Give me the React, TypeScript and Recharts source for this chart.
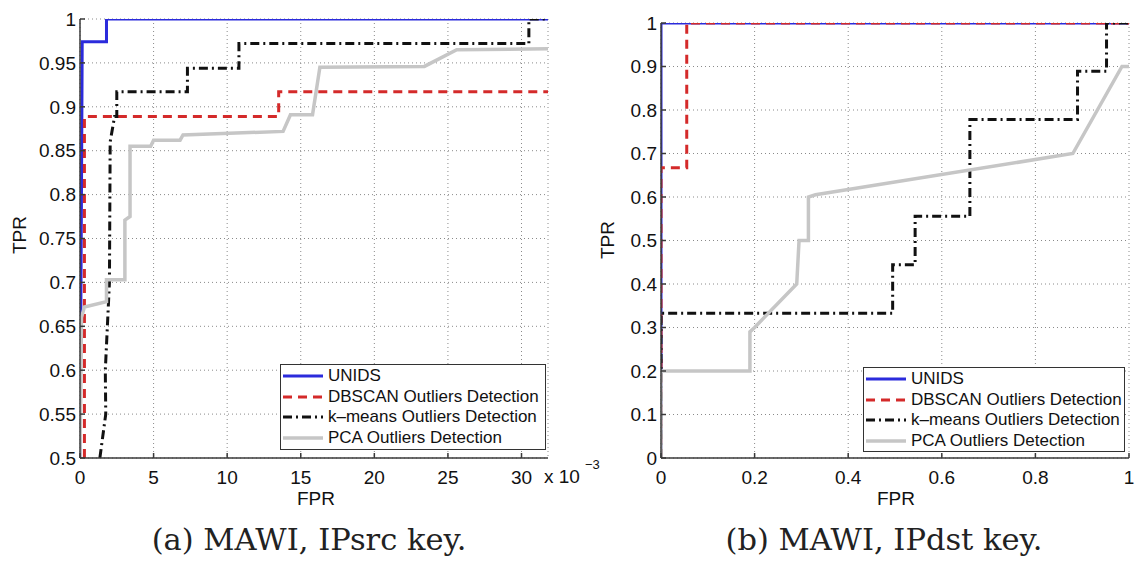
import { LineChart, Line, XAxis, YAxis, CartesianGrid, Legend } from "recharts";

type Pt = [number, number];

// (a) IPsrc key -- FPR is in units of 1e-3
const srcUnids: Pt[] = [[0, 0.5], [0.1, 0.8], [0.15, 0.974], [1.8, 0.974], [1.8, 1], [31.8, 1]];
const srcDbscan: Pt[] = [[0.3, 0.5], [0.3, 0.889], [13.5, 0.889], [13.5, 0.917], [31.8, 0.917]];
const srcKmeans: Pt[] = [
  [1.35, 0.5], [1.75, 0.55], [1.72, 0.6], [2.0, 0.7], [2.05, 0.86], [2.35, 0.889], [2.5, 0.889],
  [2.5, 0.917], [7.3, 0.917], [7.3, 0.944], [10.8, 0.944], [10.8, 0.972], [30.5, 0.972], [30.5, 1], [31.8, 1],
];
const srcPca: Pt[] = [
  [0, 0.5], [0.1, 0.66], [0.3, 0.672], [1.8, 0.678], [1.8, 0.703], [3.05, 0.703], [3.05, 0.771],
  [3.4, 0.775], [3.4, 0.855], [4.8, 0.855], [5.0, 0.862], [6.8, 0.862], [7.0, 0.868], [13.8, 0.872],
  [14.3, 0.891], [15.8, 0.891], [16.3, 0.945], [23.4, 0.946], [25.6, 0.965], [31.8, 0.966],
];
const srcXTicks = [0, 5, 10, 15, 20, 25, 30];
const srcYTicks = [0.5, 0.55, 0.6, 0.65, 0.7, 0.75, 0.8, 0.85, 0.9, 0.95, 1];

// (b) IPdst key
const dstUnids: Pt[] = [[0, 0], [0, 1], [1, 1]];
const dstDbscan: Pt[] = [[0, 0], [0, 0.667], [0.055, 0.667], [0.055, 1], [1, 1]];
const dstKmeans: Pt[] = [
  [0, 0], [0, 0.333], [0.495, 0.333], [0.495, 0.444], [0.543, 0.444], [0.543, 0.556], [0.66, 0.556],
  [0.66, 0.778], [0.89, 0.778], [0.89, 0.889], [0.952, 0.889], [0.952, 1], [1, 1],
];
const dstPca: Pt[] = [
  [0, 0], [0, 0.2], [0.19, 0.2], [0.19, 0.29], [0.2, 0.3], [0.29, 0.4], [0.295, 0.5], [0.315, 0.5],
  [0.315, 0.6], [0.33, 0.605], [0.88, 0.7], [0.985, 0.9], [1, 0.9],
];
const dstXTicks = [0, 0.2, 0.4, 0.6, 0.8, 1];
const dstYTicks = [0, 0.1, 0.2, 0.3, 0.4, 0.5, 0.6, 0.7, 0.8, 0.9, 1];

const seriesNames = ["UNIDS", "DBSCAN Outliers Detection", "k\u2013means Outliers Detection", "PCA Outliers Detection"];

const FONT = "'Liberation Sans', Arial, Helvetica, sans-serif";
const SERIF = "'DejaVu Serif', 'Liberation Serif', serif";
const AXIS = "#3a3a3a";
const INK = "#111";

const lineStyles = [
  { stroke: "#2b2bdc", width: 3, dash: undefined as string | undefined },
  { stroke: "#d42a2a", width: 3, dash: "9 6" },
  { stroke: "#111111", width: 3, dash: "9 4 2 4" },
  { stroke: "#c6c6c6", width: 3.5, dash: undefined as string | undefined },
];

const toRows = (pts: Pt[]) => pts.map(([x, y]) => ({ x, y }));
const fmt = (v: number) => String(+v.toFixed(2));

const LegendBox = () => (
  <div
    style={{
      boxSizing: "border-box",
      width: "100%",
      height: "100%",
      border: "1.5px solid #333",
      background: "#fff",
      padding: "1px 0 0 2px",
      fontFamily: FONT,
      fontSize: 17,
      color: INK,
    }}
  >
    {seriesNames.map((name, i) => (
      <div key={name} style={{ display: "flex", alignItems: "center", height: 20.5 }}>
        <svg width={42} height={8}>
          <line
            x1={0}
            x2={40}
            y1={4}
            y2={4}
            stroke={lineStyles[i].stroke}
            strokeWidth={lineStyles[i].width}
            strokeDasharray={lineStyles[i].dash}
          />
        </svg>
        <span style={{ marginLeft: 3, whiteSpace: "nowrap" }}>{name}</span>
      </div>
    ))}
  </div>
);

interface PanelProps {
  left: number;
  width: number;
  margin: { top: number; right: number; bottom: number; left: number };
  xDomain: [number, number];
  xTicks: number[];
  yDomain: [number, number];
  yTicks: number[];
  series: Pt[][];
  legendPos: { left: number; top: number; width: number; height: number };
}

const Panel = ({ left, width, margin, xDomain, xTicks, yDomain, yTicks, series, legendPos }: PanelProps) => {
  const tickStyle = { fill: INK, fontSize: 19, fontFamily: FONT };
  return (
    <div style={{ position: "absolute", left, top: 0 }}>
      <LineChart width={width} height={565} margin={margin}>
        <CartesianGrid stroke="#8a8a8a" strokeDasharray="1 3" />
        <XAxis
          type="number"
          dataKey="x"
          domain={xDomain}
          ticks={xTicks}
          interval={0}
          allowDataOverflow
          height={40}
          tickSize={-5}
          tickMargin={18}
          stroke={AXIS}
          strokeWidth={1.5}
          tick={tickStyle}
          tickFormatter={fmt}
        />
        <XAxis
          xAxisId="top"
          orientation="top"
          type="number"
          dataKey="x"
          domain={xDomain}
          ticks={xTicks}
          interval={0}
          height={0}
          tickSize={-5}
          stroke={AXIS}
          strokeWidth={1.5}
          tickFormatter={() => ""}
        />
        <YAxis
          type="number"
          domain={yDomain}
          ticks={yTicks}
          interval={0}
          allowDataOverflow
          width={60}
          tickSize={-5}
          tickMargin={9}
          stroke={AXIS}
          strokeWidth={1.5}
          tick={tickStyle}
          tickFormatter={fmt}
        />
        <YAxis
          yAxisId="right"
          orientation="right"
          type="number"
          domain={yDomain}
          ticks={yTicks}
          interval={0}
          width={0}
          tickSize={-5}
          stroke={AXIS}
          strokeWidth={1.5}
          tickFormatter={() => ""}
        />
        {series.map((pts, i) => (
          <Line
            key={seriesNames[i]}
            name={seriesNames[i]}
            data={toRows(pts)}
            dataKey="y"
            type="linear"
            stroke={lineStyles[i].stroke}
            strokeWidth={lineStyles[i].width}
            strokeDasharray={lineStyles[i].dash}
            dot={false}
            activeDot={false}
            isAnimationActive={false}
          />
        ))}
        <Legend
          layout="horizontal"
          verticalAlign="middle"
          align="center"
          wrapperStyle={{ ...legendPos }}
          content={() => <LegendBox />}
        />
      </LineChart>
    </div>
  );
};

const Txt = ({ x, y, children, style }: { x: number; y: number; children: any; style?: any }) => (
  <div
    style={{
      position: "absolute",
      left: x,
      top: y,
      transform: "translate(-50%, -50%)",
      whiteSpace: "nowrap",
      lineHeight: 1,
      fontFamily: FONT,
      fontSize: 19,
      color: INK,
      ...style,
    }}
  >
    {children}
  </div>
);

export default function App() {
  return (
    <div
      style={{
        position: "absolute",
        left: 0,
        top: 0,
        width: 1137,
        height: 565,
        background: "#fff",
        overflow: "hidden",
      }}
    >
      <Panel
        left={0}
        width={570}
        margin={{ top: 19, right: 22, bottom: 67, left: 20 }}
        xDomain={[0, 31.8]}
        xTicks={srcXTicks}
        yDomain={[0.5, 1]}
        yTicks={srcYTicks}
        series={[srcUnids, srcDbscan, srcKmeans, srcPca]}
        legendPos={{ left: 280, top: 364, width: 266, height: 86 }}
      />
      <Panel
        left={581}
        width={556}
        margin={{ top: 23, right: 8, bottom: 67, left: 20 }}
        xDomain={[0, 1]}
        xTicks={dstXTicks}
        yDomain={[0, 1]}
        yTicks={dstYTicks}
        series={[dstUnids, dstDbscan, dstKmeans, dstPca]}
        legendPos={{ left: 282, top: 367, width: 262, height: 85 }}
      />

      <Txt x={19} y={235} style={{ transform: "translate(-50%, -50%) rotate(-90deg)" }}>TPR</Txt>
      <Txt x={607} y={240} style={{ transform: "translate(-50%, -50%) rotate(-90deg)" }}>TPR</Txt>
      <Txt x={316} y={498}>FPR</Txt>
      <Txt x={896} y={498}>FPR</Txt>

      <div style={{ position: "absolute", left: 544, top: 467, fontFamily: FONT, fontSize: 19, color: INK, lineHeight: 1, whiteSpace: "nowrap" }}>
        x 10
        <span style={{ position: "absolute", left: 41, top: -9, fontSize: 13 }}>{"\u22123"}</span>
      </div>

      <Txt x={309} y={540} style={{ fontFamily: SERIF, fontSize: 30.5, color: "#222" }}>
        (a) MAWI, IPsrc key.
      </Txt>
      <Txt x={884} y={540} style={{ fontFamily: SERIF, fontSize: 30.5, color: "#222" }}>
        (b) MAWI, IPdst key.
      </Txt>
    </div>
  );
}
